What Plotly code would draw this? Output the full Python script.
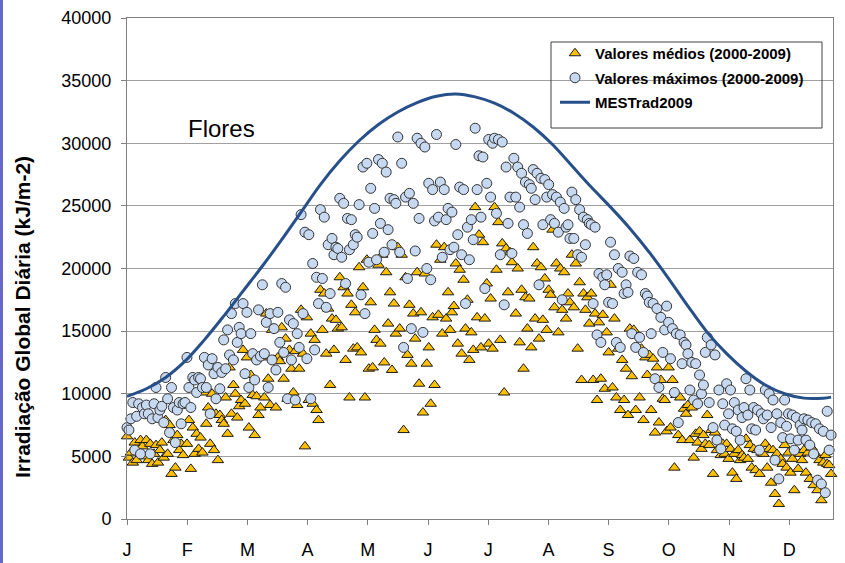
import plotly.graph_objects as go

# ---------------- data ----------------
month_labels = ["J", "F", "M", "A", "M", "J", "J", "A", "S", "O", "N", "D"]
days = list(range(1, 366))

# Daily mean values 2000-2009 (kJ/m-2)
valores_medios = [
    6600, 4900, 5300, 4500, 6100, 4700, 5500, 6300, 5800, 5000,
    6300, 4700, 6000, 4400, 5200, 5900, 4500, 5500, 6100, 4900,
    7900, 5200, 7500, 3600, 6300, 4100, 6700, 5500, 6000, 5100,
    9200, 6000, 7900, 4000, 7300, 5200, 6800, 5600, 6500, 5300,
    10100, 7600, 8900, 6000, 10000, 5500, 8400, 4700, 8300, 7900,
    7600, 9700, 6800, 12100, 8400, 10700, 10000, 8100, 9000, 9500,
    13500, 9200, 12900, 7300, 11500, 9900, 6700, 9800, 8300, 8900,
    12900, 9700, 16400, 11200, 9100, 15100, 12700, 8900, 12900, 12600,
    15300, 11200, 14400, 9600, 13500, 12000, 10100, 13400, 9100, 12000,
    16700, 13200, 5800, 16100, 9500, 14800, 9200, 14300, 8700, 7900,
    18300, 15100, 18000, 13200, 16800, 10700, 16000, 13500, 15900, 15200,
    19300, 15300, 18500, 12700, 18000, 9700, 17100, 13600, 16500, 13700,
    20100, 13300, 18500, 9700, 20700, 12000, 17300, 12100, 15100, 14300,
    20300, 14000, 21100, 12500, 19700, 15600, 18100, 11900, 17200, 14800,
    21700, 15200, 21100, 7100, 19300, 13100, 17100, 12400, 16400, 14400,
    19700, 10800, 16500, 8500, 19600, 12400, 13700, 9200, 16100, 10700,
    21900, 16300, 20700, 14800, 21700, 16000, 18100, 15100, 16500, 17000,
    20400, 14000, 19900, 13200, 19100, 15200, 17500, 12700, 14900, 13500,
    24900, 16100, 22700, 13700, 22100, 16000, 18800, 14000, 17600, 13600,
    24900, 19900, 23700, 14300, 22000, 10100, 21600, 18100, 21300, 20500,
    25700, 16400, 20000, 14100, 18300, 12000, 17700, 15200, 17600, 13700,
    21700, 16000, 20400, 14400, 20100, 15900, 19200, 15100, 18300, 17900,
    23100, 16900, 20400, 14900, 20000, 16700, 19700, 16000, 18000, 17300,
    21100, 16900, 20400, 13600, 18900, 11100, 18000, 16700, 17700, 15600,
    18000, 11100, 16400, 9500, 15700, 11200, 16300, 10400, 14900, 13300,
    18700, 10500, 16000, 9700, 13600, 8700, 12700, 9500, 12000, 8300,
    15200, 11400, 15100, 8700, 13700, 9700, 13600, 7900, 12900, 11500,
    13100, 8700, 12800, 6900, 12100, 7700, 11100, 9600, 9500, 7000,
    12100, 7300, 11100, 4100, 9900, 6700, 9700, 6300, 8800, 8400,
    9100, 6300, 8900, 4900, 6800, 6100, 7000, 5600, 6700, 6000,
    8300, 5900, 7100, 3600, 6900, 5500, 6300, 5100, 6000, 5200,
    6000, 4800, 5600, 3700, 5200, 3200, 5500, 4700, 5100, 4900,
    6400, 4800, 5900, 4100, 5600, 3900, 5500, 3600, 5300, 5200,
    6000, 4100, 5600, 2900, 5500, 2000, 5200, 1200, 4800, 4400,
    5900, 4100, 5300, 3700, 4800, 2300, 5500, 4000, 5200, 4700,
    5500, 3700, 5300, 3200, 5700, 2700, 5200, 2300, 4700, 1500, 4500, 5100, 4400, 4300, 3600,
]

# Daily maximum values 2000-2009 (kJ/m-2)
valores_maximos = [
    7300, 7100, 8000, 9300, 5500, 8200, 9200, 5200, 8900, 8400,
    9100, 8400, 5200, 8000, 9200, 10500, 8100, 8700, 9000, 7700,
    11300, 9600, 6900, 10500, 8900, 6100, 8700, 9300, 7600, 9200,
    9300, 12900, 10500, 8900, 11300, 11100, 10100, 11300, 11200, 10500,
    12900, 10500, 12300, 8400, 12800, 11600, 9600, 12100, 10400, 11700,
    14300, 12000, 15100, 13100, 16400, 12700, 17200, 14100, 15300, 14800,
    17200, 11600, 16500, 10500, 14800, 13200, 11100, 12700, 16700, 13000,
    18700, 13200, 15700, 10500, 16400, 12700, 15200, 11900, 16500, 14100,
    18800, 13300, 18500, 9600, 15900, 12700, 15600, 9500, 14800, 13700,
    24300, 16400, 22900, 12800, 22700, 9600, 20400, 13500, 19300, 17200,
    24700, 19200, 24100, 16900, 21900, 18000, 22400, 21100, 21700, 21600,
    25600, 20900, 25200, 18800, 24000, 21500, 23900, 21900, 22700, 22500,
    25100, 17900, 28100, 16400, 28400, 20500, 26400, 22800, 24800, 20700,
    28700, 23600, 28400, 21300, 27700, 23100, 25600, 21900, 25500, 25200,
    30500, 21300, 28400, 13700, 25700, 19200, 26000, 15200, 25200, 21400,
    30400, 24000, 30000, 14900, 29700, 20000, 26800, 19100, 26300, 23800,
    30700, 24100, 26900, 20900, 26300, 23900, 24800, 21500, 24500, 21700,
    29900, 22700, 26500, 21100, 26300, 17200, 23300, 20700, 23900, 22300,
    31200, 26300, 29000, 24100, 28900, 18400, 26800, 30300, 25700, 30000,
    30400, 24400, 30300, 21100, 30100, 17100, 28100, 23600, 25700, 21200,
    28800, 25700, 28100, 24900, 27600, 23500, 26900, 22800, 26700, 26400,
    27900, 25500, 27600, 18700, 27200, 23500, 27100, 25700, 26700, 23900,
    25900, 23600, 25700, 22900, 25300, 17500, 24800, 23300, 23500, 22400,
    26100, 22400, 25500, 21100, 24700, 20900, 24100, 21900, 23900, 23600,
    23500, 17200, 23300, 14700, 19600, 14100, 19300, 18700, 19500, 17300,
    22100, 17200, 21100, 14100, 20000, 13700, 19700, 18000, 18700, 18100,
    21000, 14800, 20800, 13700, 19700, 14500, 19500, 13300, 18000, 17800,
    17300, 14800, 17200, 11200, 16800, 10500, 16100, 13300, 15100, 17000,
    15700, 12800, 15200, 10100, 14800, 7700, 14700, 12400, 14100, 13900,
    13200, 10300, 12500, 9500, 12400, 9200, 11500, 10000, 10700, 13300,
    14500, 9300, 13900, 7300, 13100, 6300, 10300, 5600, 9200, 7500,
    10800, 8400, 10300, 7200, 9300, 7000, 8700, 6300, 8100, 8900,
    11200, 8300, 10300, 7200, 8900, 7100, 8700, 5500, 8400, 8000,
    10300, 8300, 10000, 7300, 9500, 4700, 8400, 3200, 7700, 6500,
    9500, 7400, 8400, 6400, 8300, 5500, 8100, 6300, 7500, 7100,
    8000, 6300, 7900, 5900, 7700, 5200, 7600, 3100, 7200, 2800, 7000, 2100, 8600, 5500, 6700,
]

# MESTrad2009 model curve (kJ/m-2)
mestrad_days = [1, 11, 21, 31, 41, 51, 61, 71, 81, 91, 101, 111, 121, 131, 141,
                151, 161, 171, 181, 191, 201, 211, 221, 231, 241, 251, 261, 271,
                281, 291, 301, 311, 321, 331, 341, 351, 361, 365]
mestrad_vals = [9800, 10400, 11300, 12600, 14300, 16200, 18200, 20200, 22300, 24500,
                26700, 28600, 30200, 31500, 32500, 33250, 33750, 33930, 33700, 33200,
                32400, 31300, 29900, 28200, 26500, 24900, 23200, 21300, 19200, 17000,
                14900, 13200, 11800, 10700, 10000, 9650, 9650, 9730]

FONT = "Liberation Sans, Arial, sans-serif"

fig = go.Figure()
fig.add_trace(go.Scatter(
    x=days, y=valores_medios, mode="markers", name="<b>Valores médios (2000-2009)</b>",
    legendgroup="a", cliponaxis=False,
    marker=dict(symbol="triangle-up", size=10, color="#FFC000",
                line=dict(color="#1a1a1a", width=1)),
))
fig.add_trace(go.Scatter(
    x=days, y=valores_maximos, mode="markers", name="<b>Valores máximos (2000-2009)</b>",
    legendgroup="b", cliponaxis=False,
    marker=dict(symbol="circle", size=10, color="#C6D9F1",
                line=dict(color="#333333", width=1)),
))
fig.add_trace(go.Scatter(
    x=mestrad_days, y=mestrad_vals, mode="lines", name="<b>MESTrad2009</b>",
    legendgroup="c", line=dict(color="#27508A", width=3, shape="spline"),
))

# plot area pixels: left 127, right 833, top 18, bottom 519
PL, PR, PT, PB, W, H = 127, 833, 18, 519, 845, 563
pw, ph = PR - PL, PB - PT

def px(x):
    return (x - PL) / pw

def py(y):
    return (PB - y) / ph

tick_step = 60.2 / (pw / 365.0)
tickvals = [1 + tick_step * k for k in range(len(month_labels))]

fig.update_layout(
    width=W, height=H,
    margin=dict(l=PL, r=W - PR, t=PT, b=H - PB, autoexpand=False),
    paper_bgcolor="white", plot_bgcolor="white",
    font=dict(family=FONT, color="black"),
    showlegend=True,
    legend=dict(
        x=px(555), y=py(37), xanchor="left", yanchor="top",
        bgcolor="rgba(0,0,0,0)", borderwidth=0,
        font=dict(family=FONT, size=15, color="black"),
        tracegroupgap=2, itemwidth=30,
    ),
    xaxis=dict(
        range=[1, 366], tickmode="array", tickvals=tickvals, ticktext=month_labels,
        ticks="outside", ticklen=5, tickcolor="#808080",
        showgrid=False, zeroline=False, automargin=False,
        showline=True, linecolor="#808080", linewidth=1, mirror=True,
        tickfont=dict(family=FONT, size=18, color="black"),
        ticklabelstandoff=9,
    ),
    yaxis=dict(
        range=[0, 40000], dtick=5000, tickformat="d",
        ticks="outside", ticklen=5, tickcolor="#808080",
        showgrid=True, gridcolor="#A0A0A0", gridwidth=1, zeroline=False,
        automargin=False,
        showline=True, linecolor="#808080", linewidth=1, mirror=True,
        tickfont=dict(family=FONT, size=18, color="black"),
        ticklabelstandoff=6,
    ),
    shapes=[
        dict(type="rect", xref="paper", yref="paper",
             x0=px(551), x1=px(822), y0=py(128), y1=py(42),
             line=dict(color="#404040", width=1), fillcolor="rgba(0,0,0,0)",
             layer="above"),
        dict(type="rect", xref="paper", yref="paper",
             x0=px(0), x1=px(3), y0=py(H), y1=py(0),
             line=dict(width=0), fillcolor="#6666CC", layer="above"),
    ],
    annotations=[
        dict(text="Flores", xref="paper", yref="paper", x=px(221), y=py(128),
             xanchor="center", yanchor="middle", showarrow=False,
             font=dict(family=FONT, size=24, color="black")),
        dict(text="<b>Irradiação Global Diária (kJ/m-2)</b>", xref="paper", yref="paper",
             x=px(22), y=py(317), xanchor="center", yanchor="middle",
             textangle=-90, showarrow=False,
             font=dict(family=FONT, size=21, color="black")),
    ],
)

fig.write_html("out.html", config={"displayModeBar": False},
               post_script="document.body.style.margin='0px';")
